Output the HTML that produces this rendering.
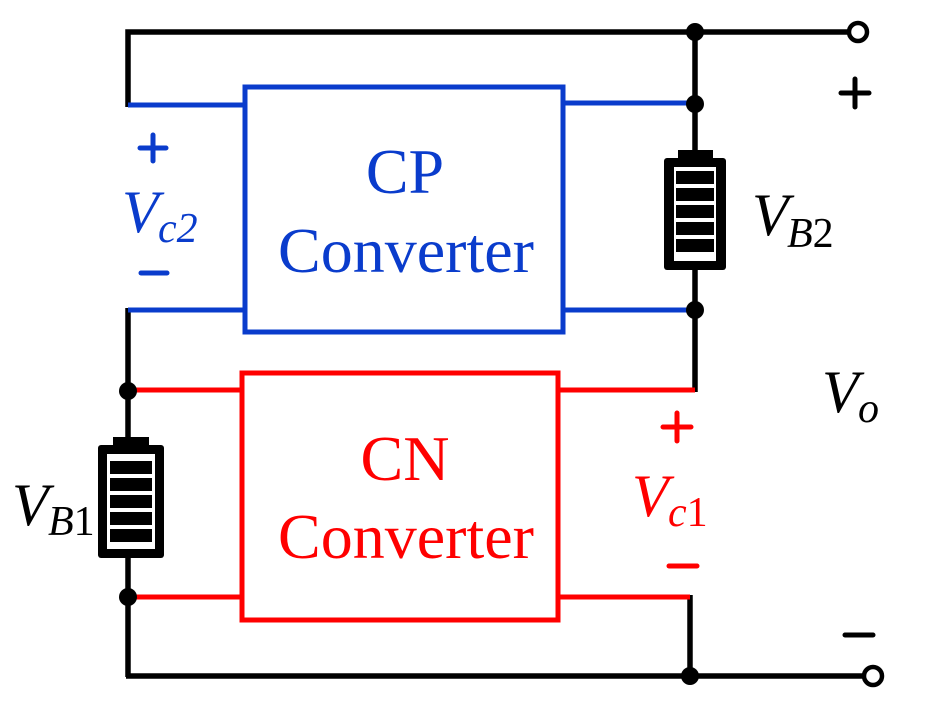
<!DOCTYPE html>
<html><head><meta charset="utf-8"><style>
html,body{margin:0;padding:0;background:#fff;}
svg{display:block;}
text{font-family:"Liberation Serif",serif;}
</style></head><body>
<svg width="936" height="720" viewBox="0 0 936 720" xmlns="http://www.w3.org/2000/svg">
<g fill="none" stroke-linecap="butt">
<g stroke="#000" stroke-width="5.5">
<polyline points="128,107 128,32 850,32"/>
<line x1="695" y1="32" x2="695" y2="392"/>
<line x1="128" y1="308" x2="128" y2="677"/>
<polyline points="690,595 690,676 864,676"/>
<line x1="126" y1="676" x2="690" y2="676"/>
</g>
<g stroke="#0a3ccc" stroke-width="5">
<line x1="128" y1="105" x2="245" y2="105"/>
<line x1="128" y1="310" x2="245" y2="310"/>
<line x1="563" y1="103" x2="695" y2="103"/>
<line x1="563" y1="310" x2="695" y2="310"/>
<rect x="245" y="87" width="318" height="245" stroke-width="5"/>
</g>
<g stroke="#f00" stroke-width="5">
<line x1="128" y1="390" x2="242" y2="390"/>
<line x1="128" y1="597" x2="242" y2="597"/>
<line x1="558" y1="390" x2="695" y2="390"/>
<line x1="558" y1="597" x2="690" y2="597"/>
<rect x="242" y="373" width="316" height="247" stroke-width="5"/>
</g>
<circle cx="858" cy="32" r="9" stroke="#000" stroke-width="4.5" fill="#fff"/>
<circle cx="873" cy="676" r="9" stroke="#000" stroke-width="4.5" fill="#fff"/>
</g>
<g fill="#000">
<circle cx="695" cy="32" r="9"/>
<circle cx="695" cy="104" r="9"/>
<circle cx="695" cy="310" r="9"/>
<circle cx="128" cy="391" r="9"/>
<circle cx="128" cy="597" r="9"/>
<circle cx="690" cy="676" r="9"/>
</g>
<g>
<rect x="678" y="150" width="35" height="10" fill="#000"/>
<rect x="664" y="158" width="62" height="112" rx="3" fill="#000"/>
<rect x="674" y="167" width="42" height="94" fill="#fff"/>
<g fill="#000"><rect x="676" y="171" width="38" height="13"/><rect x="676" y="188" width="38" height="13"/><rect x="676" y="205" width="38" height="13"/><rect x="676" y="222" width="38" height="13"/><rect x="676" y="239" width="38" height="13"/></g>
</g>
<g>
<rect x="113" y="437" width="36" height="10" fill="#000"/>
<rect x="98" y="445" width="66" height="113" rx="3" fill="#000"/>
<rect x="107" y="454" width="48" height="95" fill="#fff"/>
<g fill="#000"><rect x="110" y="461" width="42" height="13"/><rect x="110" y="478" width="42" height="13"/><rect x="110" y="495" width="42" height="13"/><rect x="110" y="512" width="42" height="13"/><rect x="110" y="529" width="42" height="13"/></g>
</g>
<g font-size="64" text-anchor="middle">
<text x="405" y="193" fill="#0a3ccc">CP</text>
<text x="406" y="272" fill="#0a3ccc">Converter</text>
<text x="405" y="480" fill="#f00">CN</text>
<text x="406" y="558" fill="#f00">Converter</text>
</g>
<g stroke-width="5" stroke-linecap="round">
<path d="M140,148 h26 M153,135 v26" stroke="#0a3ccc"/>
<path d="M141,273 h26" stroke="#0a3ccc"/>
<path d="M663,427 h28 M677,413 v28" stroke="#f00"/>
<path d="M669,566 h28" stroke="#f00"/>
<path d="M841,93 h28 M855,79 v28" stroke="#000"/>
<path d="M845,635 h28" stroke="#000"/>
</g>
<g font-style="italic">
<text x="122" y="232" font-size="60" fill="#0a3ccc">V</text>
<text x="158" y="242" font-size="42" fill="#0a3ccc">c2</text>
<text x="632" y="516" font-size="60" fill="#f00">V</text>
<text x="668" y="526" font-size="42" fill="#f00">c<tspan font-style="normal">1</tspan></text>
<text x="752" y="235" font-size="60" fill="#000">V</text>
<text x="787" y="247" font-size="42" fill="#000">B<tspan font-style="normal">2</tspan></text>
<text x="12" y="525" font-size="60" fill="#000">V</text>
<text x="48" y="535" font-size="42" fill="#000">B<tspan font-style="normal">1</tspan></text>
<text x="822" y="412" font-size="60" fill="#000">V</text>
<text x="858" y="422" font-size="42" fill="#000">o</text>
</g>
</svg>
</body></html>
